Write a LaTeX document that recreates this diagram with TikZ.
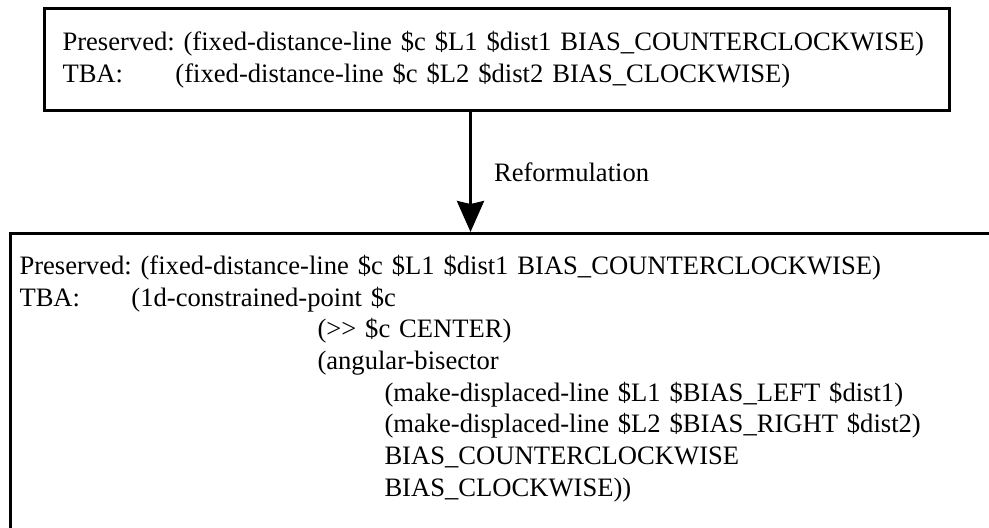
\documentclass[tikz,border=0pt]{standalone}
\usepackage{fontspec}
\setmainfont{Liberation Serif}
\usetikzlibrary{positioning, arrows.meta}
\frenchspacing

\tikzset{
  stmt/.style={draw, line width=1.5pt, align=left, anchor=north west},
  flow/.style={-{Stealth[length=15.5pt, width=13.5pt, inset=1.5pt]}, line width=1.5pt},
}

\begin{document}
\begin{tikzpicture}[x=0.5pt, y=-0.5pt, font=\fontsize{13.3pt}{15.85pt}\selectfont]
  \useasboundingbox (0,0) rectangle (989,527);
  \clip (0,0) rectangle (989,527);

  % goal before reformulation
  \node[stmt, text width=434.5pt, inner xsep=9pt, minimum height=51pt] (pre) at (43,7)
    {Preserved: (fixed-distance-line \$c \$L1 \$dist1 BIAS\_COUNTERCLOCKWISE)\\
     \makebox[56.5pt][l]{TBA:}(fixed-distance-line \$c \$L2 \$dist2 BIAS\_CLOCKWISE)};

  % goal after reformulation (runs off the page)
  \node[stmt, text width=560pt, inner xsep=4.5pt, inner ysep=10.8pt, text depth=200pt] (post) at (9,232)
    {Preserved: (fixed-distance-line \$c \$L1 \$dist1 BIAS\_COUNTERCLOCKWISE)\\
     \makebox[56pt][l]{TBA:}(1d-constrained-point \$c\\
     \hspace*{149pt}(>\kern0pt> \$c CENTER)\\
     \hspace*{149pt}(angular-bisector\\
     \hspace*{182.5pt}(make-displaced-line \$L1 \$BIAS\_LEFT \$dist1)\\
     \hspace*{182.5pt}(make-displaced-line \$L2 \$BIAS\_RIGHT \$dist2)\\
     \hspace*{182.5pt}BIAS\_COUNTERCLOCKWISE\\
     \hspace*{182.5pt}BIAS\_CLOCKWISE))};

  \draw[flow] ([xshift=-13.25pt]pre.south) -- ([xshift=-13.25pt]pre.south |- post.north)
    node[midway, right=11pt, inner sep=0pt] (lbl) {Reformulation};
\end{tikzpicture}
\end{document}
